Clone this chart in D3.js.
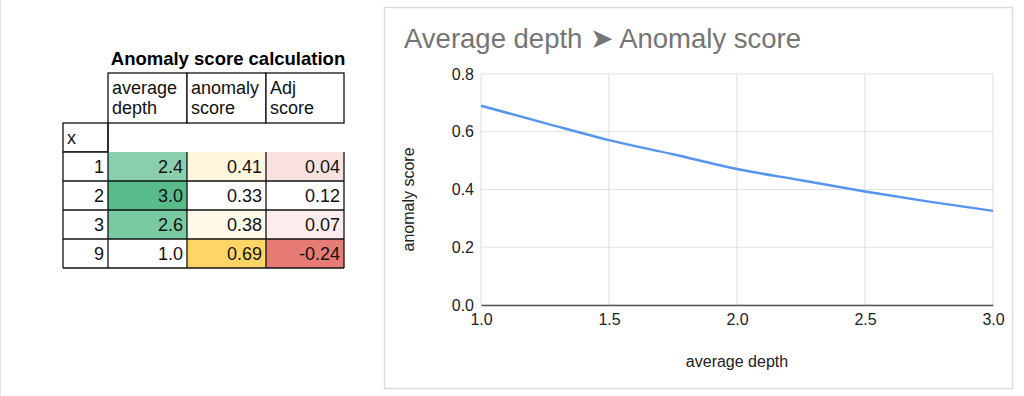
<!DOCTYPE html>
<html>
    <head>
        <title>Average depth vs anomaly score</title>
        <script src="https://d3js.org/d3.v7.min.js"></script>
        <style>
            body { margin:0; background:#fff; }
            svg { display:block; font-family:"Liberation Sans", Arial, sans-serif; }
        </style>
    </head>
    <body>
        <svg id="chart" width="1024" height="396"></svg>
    </body>
    <script>

        // table data
        const rowIds = ['1', '2', '3', '9'];
        const avgDepth = [2.4, 3.0, 2.6, 1.0];
        const anomalyScore = [0.41, 0.33, 0.38, 0.69];
        const adjScore = [0.04, 0.12, 0.07, -0.24];
        const headers = [['average', 'depth'], ['anomaly', 'score'], ['Adj', 'score']];

        // curve data
        const depthX = [1.0, 1.25, 1.5, 1.75, 2.0, 2.25, 2.5, 2.75, 3.0];
        const scoreY = [0.69, 0.63, 0.571, 0.522, 0.471, 0.432, 0.393, 0.358, 0.326];
        const xTicks = [1.0, 1.5, 2.0, 2.5, 3.0];
        const yTicks = [0.0, 0.2, 0.4, 0.6, 0.8];

        const svg = d3.select('#chart');
        const cellFont = '18px';

        // faint page edge
        svg.append('line').attr('x1', 0.5).attr('x2', 0.5).attr('y1', 0).attr('y2', 396)
            .style('stroke', '#e4e4e4');

        // ---------- table ----------
        const colX = [63, 108, 187, 266, 344];
        const rowY = [152, 181, 210, 239, 268];
        const tbl = svg.append('g');

        tbl.append('text')
            .attr('x', 228).attr('y', 65)
            .attr('text-anchor', 'middle')
            .style('font-weight', 'bold').style('font-size', '18.5px')
            .text('Anomaly score calculation');

        // header cells
        headers.forEach((h, i) => {
            tbl.append('rect')
                .attr('x', colX[i + 1]).attr('y', 73)
                .attr('width', colX[i + 2] - colX[i + 1]).attr('height', 50)
                .style('fill', 'white').style('stroke', '#111').style('stroke-width', 1.3);
            h.forEach((line, j) => {
                tbl.append('text')
                    .attr('x', colX[i + 1] + 4).attr('y', 94 + j * 20)
                    .style('font-size', cellFont).style('fill', '#111')
                    .text(line);
            });
        });

        // "x" row
        tbl.append('rect').attr('x', colX[0]).attr('y', 123).attr('width', colX[1] - colX[0]).attr('height', 29)
            .style('fill', 'white').style('stroke', '#111').style('stroke-width', 1.3);
        tbl.append('text').attr('x', colX[0] + 4).attr('y', 144)
            .style('font-size', cellFont).style('fill', '#111').text('x');

        // colour scales like the sheet's conditional formatting
        const greenScale = d3.scaleLinear().domain(d3.extent(avgDepth)).range(['#ffffff', '#57bb8a']);
        const yellowScale = d3.scaleLinear().domain(d3.extent(anomalyScore)).range(['#ffffff', '#ffd666']);
        const redScale = d3.scaleLinear().domain([d3.max(adjScore), d3.min(adjScore)]).range(['#ffffff', '#e67c73']);

        const cols = [
            { vals: avgDepth, fmt: d3.format('.1f'), color: greenScale },
            { vals: anomalyScore, fmt: d3.format('.2f'), color: yellowScale },
            { vals: adjScore, fmt: d3.format('.2f'), color: redScale }
        ];

        rowIds.forEach((id, r) => {
            const y0 = rowY[r], y1 = rowY[r + 1];
            tbl.append('rect').attr('x', colX[0]).attr('y', y0).attr('width', colX[1] - colX[0]).attr('height', y1 - y0)
                .style('fill', 'white');
            tbl.append('text').attr('x', colX[1] - 4).attr('y', y0 + 21)
                .attr('text-anchor', 'end').style('font-size', cellFont).style('fill', '#111').text(id);
            cols.forEach((c, i) => {
                tbl.append('rect').attr('x', colX[i + 1]).attr('y', y0)
                    .attr('width', colX[i + 2] - colX[i + 1]).attr('height', y1 - y0)
                    .style('fill', c.color(c.vals[r]));
                tbl.append('text').attr('x', colX[i + 2] - 4).attr('y', y0 + 21)
                    .attr('text-anchor', 'end').style('font-size', cellFont).style('fill', '#111')
                    .text(c.fmt(c.vals[r]).replace('−', '-'));
            });
        });

        // grid lines of the data rows
        const borderStyle = sel => sel.style('stroke', '#111').style('stroke-width', 1.3);
        colX.forEach(x => tbl.append('line').attr('x1', x).attr('x2', x).attr('y1', rowY[0]).attr('y2', rowY[4]).call(borderStyle));
        rowY.forEach((y, k) => {
            tbl.append('line').attr('x1', colX[0]).attr('x2', k === 0 ? colX[1] : colX[4]).attr('y1', y).attr('y2', y).call(borderStyle);
        });
        // left side of the blank cell next to "x"
        tbl.append('line').attr('x1', colX[1]).attr('x2', colX[1]).attr('y1', 123).attr('y2', 152).call(borderStyle);

        // ---------- chart ----------
        svg.append('rect')
            .attr('x', 384.5).attr('y', 7.5).attr('width', 628).attr('height', 381)
            .style('fill', 'white').style('stroke', '#dcdcdc').style('stroke-width', 1.5);

        svg.append('text')
            .attr('x', 404).attr('y', 48)
            .style('font-size', '27.5px').style('fill', '#757575')
            .text('Average depth ➤ Anomaly score');

        const x = d3.scaleLinear().domain([1, 3]).range([481, 993]);
        const y = d3.scaleLinear().domain([0, 0.8]).range([305, 74]);

        const grid = svg.append('g');
        grid.selectAll('.hg').data(yTicks).join('line')
            .attr('x1', x(1)).attr('x2', x(3))
            .attr('y1', d => y(d)).attr('y2', d => y(d))
            .style('stroke', '#e2e2e2').style('stroke-width', 1.2);
        grid.selectAll('.vg').data(xTicks).join('line')
            .attr('x1', d => x(d)).attr('x2', d => x(d))
            .attr('y1', y(0.8)).attr('y2', y(0))
            .style('stroke', '#e2e2e2').style('stroke-width', 1.2);

        // y axis
        const yAxis = svg.append('g')
            .attr('transform', `translate(${x(1)},0)`)
            .call(d3.axisLeft(y).tickValues(yTicks).tickFormat(d3.format('.1f')).tickSize(0).tickPadding(7));
        yAxis.select('.domain').remove();
        yAxis.selectAll('text').style('font-size', '16px').style('fill', '#222')
            .style('font-family', '"Liberation Sans", Arial, sans-serif');

        // x axis
        const xAxis = svg.append('g')
            .attr('transform', `translate(0,${y(0)})`)
            .call(d3.axisBottom(x).tickValues(xTicks).tickFormat(d3.format('.1f')).tickSize(0).tickPadding(9));
        xAxis.select('.domain').style('stroke', '#555').style('stroke-width', 1.5);
        xAxis.selectAll('text').style('font-size', '16px').style('fill', '#222')
            .style('font-family', '"Liberation Sans", Arial, sans-serif');

        svg.append('text')
            .attr('x', x(2)).attr('y', 367)
            .attr('text-anchor', 'middle')
            .style('font-size', '16px').style('fill', '#222')
            .text('average depth');

        svg.append('text')
            .attr('transform', `translate(414,${y(0.4) + 10}) rotate(-90)`)
            .attr('text-anchor', 'middle')
            .style('font-size', '16px').style('fill', '#222')
            .text('anomaly score');

        // the curve
        const line = d3.line()
            .x((d, i) => x(depthX[i]))
            .y(d => y(d))
            .curve(d3.curveMonotoneX);

        svg.append('path')
            .datum(scoreY)
            .attr('d', line)
            .style('fill', 'none')
            .style('stroke', '#5595f0')
            .style('stroke-width', 2.5);

    </script>
</html>
